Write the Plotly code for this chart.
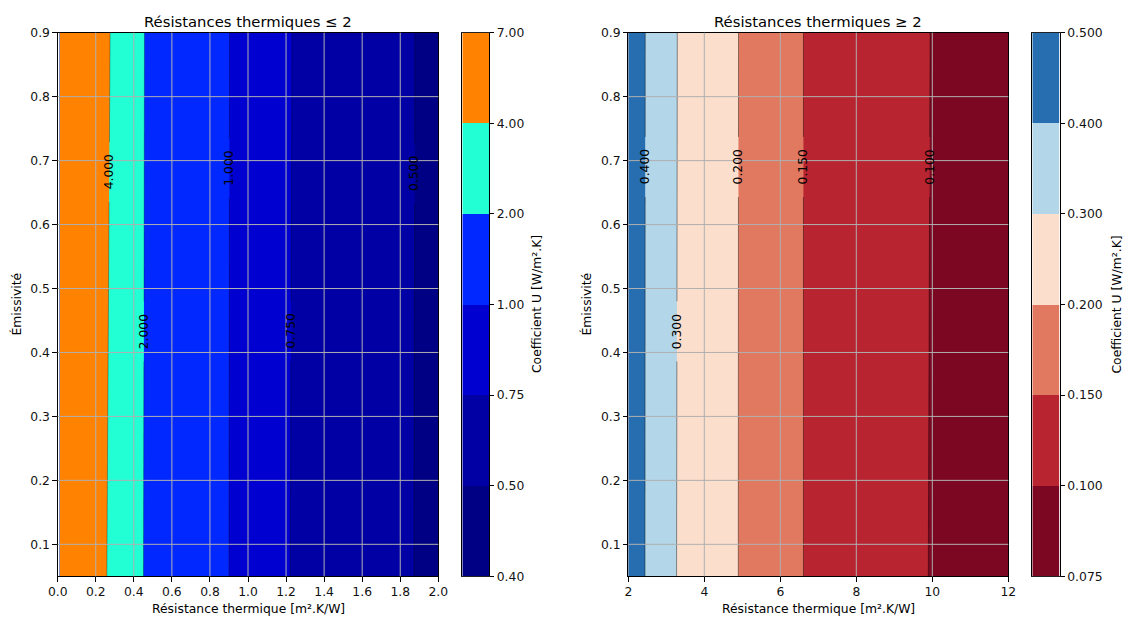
import numpy as np
import plotly.graph_objects as go

W, H = 1125, 619

# ---------------- data ----------------
emissivity = [0.05, 0.9]

R_low = [0.01, 0.1, 0.2, 0.3, 0.4, 0.5, 0.6, 0.8, 1.0, 1.2, 1.4, 1.6, 1.8, 2.0]
U_low_e005 = [6.0, 5.3, 4.5, 3.64, 2.2, 1.805, 1.5, 1.12, 0.88, 0.761, 0.66, 0.58, 0.517, 0.47]
U_low_e090 = [6.3, 5.5, 4.7, 3.77, 2.22, 1.827, 1.52, 1.125, 0.882, 0.766, 0.665, 0.585, 0.5175, 0.472]

R_high = [2, 2.5, 3, 3.5, 4, 5, 6, 7, 8, 9, 10, 11, 12]
U_high_e005 = [0.48, 0.389, 0.318, 0.2847, 0.245, 0.1947, 0.162, 0.1423, 0.124, 0.111, 0.0987, 0.09, 0.083]
U_high_e090 = [0.482, 0.39, 0.32, 0.2855, 0.246, 0.1949, 0.1625, 0.142, 0.1245, 0.1115, 0.0993, 0.0905, 0.0835]

levels_low = [0.4, 0.5, 0.75, 1.0, 2.0, 4.0, 7.0]
levels_high = [0.075, 0.1, 0.15, 0.2, 0.3, 0.4, 0.5]

colors_low = ["#000084", "#0000a4", "#0000d1", "#0028ff", "#23ffd4", "#ff8200"]
colors_high = ["#7c0722", "#b82531", "#e17860", "#fcdecd", "#b3d6e8", "#276eb0"]

xticks_low = [0.0, 0.2, 0.4, 0.6, 0.8, 1.0, 1.2, 1.4, 1.6, 1.8, 2.0]
xticks_high = [2, 4, 6, 8, 10, 12]
yticks = [0.1, 0.2, 0.3, 0.4, 0.5, 0.6, 0.7, 0.8, 0.9]

label_eps_low = {0.5: 0.68, 0.75: 0.433, 1.0: 0.688, 2.0: 0.433, 4.0: 0.682}
label_eps_high = {0.1: 0.69, 0.15: 0.69, 0.2: 0.69, 0.3: 0.433, 0.4: 0.69}

titles = ["Résistances thermiques ≤ 2", "Résistances thermiques ≥ 2"]
xlabel = "Résistance thermique [m².K/W]"
ylabel = "Émissivité"
cblabel = "Coefficient U [W/m².K]"

FONT = "DejaVu Sans"
FS = 12.35
FS_TITLE = 14.8

# ---------------- layout geometry (pixels) ----------------
ytop, ybot = 32.7, 576.3
panels = [
    dict(x0=57.7, x1=438.3, cb0=462.3, cb1=489.0, cbt=536.5, ylab=16.0),
    dict(x0=628.3, x1=1008.3, cb0=1032.3, cb1=1059.5, cbt=1116.0, ylab=586.0),
]
TRANSPARENT = "rgba(0,0,0,0)"


def stepped_scale(cols):
    n = len(cols)
    scale = []
    for k, c in enumerate(cols):
        lo = max(0.0, (k - 0.5) / (n - 1))
        hi = min(1.0, (k + 0.5) / (n - 1))
        scale.append([lo, c])
        scale.append([hi, c])
    return scale


fig = go.Figure()
shapes = []
annotations = []

datasets = [
    (R_low, [U_low_e005, U_low_e090], levels_low, colors_low, xticks_low, label_eps_low, "{:.1f}", "{:.2f}", [0, 2], 0.3),
    (R_high, [U_high_e005, U_high_e090], levels_high, colors_high, xticks_high, label_eps_high, "{:d}", "{:.3f}", [2, 12], 0.42),
]

for i, (R, Urows, levels, cols, xt, leps, xfmt, cbfmt, xr, lalpha) in enumerate(datasets):
    p = panels[i]
    xa = "x" if i == 0 else "x2"
    ya = "y" if i == 0 else "y2"
    xcb = "x3" if i == 0 else "x4"
    ycb = "y3" if i == 0 else "y4"
    U = np.array(Urows, dtype=float)
    nb = len(cols)
    line_col = "rgba(0,0,0,{})".format(lalpha)

    # stacked single-level filled contours on the real U values
    for k in range(1, nb):
        lev = levels[k]
        below = cols[k - 1] if k == 1 else TRANSPARENT
        cs = [[0, below], [0.5, below], [0.5, cols[k]], [1, cols[k]]]
        fig.add_trace(go.Contour(
            x=R, y=emissivity, z=U, autocontour=False,
            contours=dict(start=lev, end=lev, size=1, coloring="fill", showlines=False),
            line=dict(width=0), colorscale=cs, showscale=False, hoverinfo="skip",
            xaxis=xa, yaxis=ya))

    # contour lines with gaps at labels
    for lev in levels[1:-1]:
        rr = [float(np.interp(lev, row[::-1], np.array(R)[::-1])) for row in U]
        e0, e1 = emissivity
        ly = leps[lev]
        gap = 0.047

        def xat(e):
            return rr[0] + (rr[1] - rr[0]) * (e - e0) / (e1 - e0)

        xs = [xat(e0), xat(ly - gap), None, xat(ly + gap), xat(e1)]
        ys = [e0, ly - gap, None, ly + gap, e1]
        fig.add_trace(go.Scatter(x=xs, y=ys, mode="lines", line=dict(color=line_col, width=1),
                                 hoverinfo="skip", showlegend=False, xaxis=xa, yaxis=ya))
        annotations.append(dict(x=xat(ly), y=ly, xref=xa, yref=ya, text="{:.3f}".format(lev),
                                showarrow=False, textangle=-90, font=dict(family=FONT, size=FS, color="#000"),
                                xanchor="center", yanchor="middle"))

    # colorbar as heatmap of bands
    fig.add_trace(go.Heatmap(
        x=[0, 1], y=list(range(len(levels))), z=[[k] for k in range(nb)],
        colorscale=stepped_scale(cols), zmin=0, zmax=nb - 1, showscale=False, hoverinfo="skip",
        xaxis=xcb, yaxis=ycb))

    ydom = [1 - ybot / H, 1 - ytop / H]
    axkw = dict(showline=True, linecolor="black", linewidth=1, mirror=True,
                ticks="outside", ticklen=4.3, tickwidth=1, tickcolor="black",
                showgrid=False, zeroline=False, automargin=False,
                tickfont=dict(family=FONT, size=FS, color="#111"))
    if xfmt == "{:d}":
        xtext = [str(int(v)) for v in xt]
    else:
        xtext = [xfmt.format(v) for v in xt]
    xname = "xaxis" if i == 0 else "xaxis2"
    yname = "yaxis" if i == 0 else "yaxis2"
    fig.update_layout(**{
        xname: dict(domain=[p["x0"] / W, p["x1"] / W], range=xr, tickvals=xt, ticktext=xtext,
                    anchor=ya, **axkw),
        yname: dict(domain=ydom, range=[0.05, 0.9], tickvals=yticks,
                    ticktext=["{:.1f}".format(v) for v in yticks], anchor=xa, **axkw),
        ("xaxis3" if i == 0 else "xaxis4"): dict(domain=[p["cb0"] / W, p["cb1"] / W], range=[0, 1],
                                                 showticklabels=False, ticks="", showline=True,
                                                 linecolor="#222", linewidth=1, mirror=True,
                                                 showgrid=False, zeroline=False, automargin=False,
                                                 anchor=ycb),
        ("yaxis3" if i == 0 else "yaxis4"): dict(domain=ydom, range=[0, len(levels) - 1], side="right",
                                                 tickvals=list(range(len(levels))),
                                                 ticktext=[cbfmt.format(v) for v in levels],
                                                 anchor=xcb, **axkw),
    })

    # grid lines on top
    for v in xt:
        if v <= xr[0] or v >= xr[1]:
            continue
        shapes.append(dict(type="line", xref=xa, yref=ya + " domain", x0=v, x1=v, y0=0, y1=1,
                           line=dict(color="#b0b0b0", width=1), layer="above"))
    for v in yticks:
        if v >= 0.9:
            continue
        shapes.append(dict(type="line", xref=xa + " domain", yref=ya, x0=0, x1=1, y0=v, y1=v,
                           line=dict(color="#b0b0b0", width=1), layer="above"))

    xc = (p["x0"] + p["x1"]) / 2 / W
    annotations.append(dict(x=xc, y=1 - 21 / H, xref="paper", yref="paper", text=titles[i],
                            showarrow=False, font=dict(family=FONT, size=FS_TITLE, color="#000"),
                            xanchor="center", yanchor="middle"))
    annotations.append(dict(x=xc, y=1 - 608.5 / H, xref="paper", yref="paper", text=xlabel,
                            showarrow=False, font=dict(family=FONT, size=FS, color="#000"),
                            xanchor="center", yanchor="middle"))
    annotations.append(dict(x=p["ylab"] / W, y=1 - (ytop + ybot) / 2 / H, xref="paper", yref="paper",
                            text=ylabel, showarrow=False, textangle=-90,
                            font=dict(family=FONT, size=FS, color="#000"),
                            xanchor="center", yanchor="middle"))
    annotations.append(dict(x=p["cbt"] / W, y=1 - (ytop + ybot) / 2 / H, xref="paper", yref="paper",
                            text=cblabel, showarrow=False, textangle=-90,
                            font=dict(family=FONT, size=FS, color="#000"),
                            xanchor="center", yanchor="middle"))

fig.update_layout(
    width=W, height=H, margin=dict(l=0, r=0, t=0, b=0),
    paper_bgcolor="white", plot_bgcolor="white",
    showlegend=False, shapes=shapes, annotations=annotations,
    font=dict(family=FONT, size=FS, color="#000"),
)

fig.write_html("out.html",
               config={"displayModeBar": False, "staticPlot": True},
               post_script="document.body.style.margin='0px';document.body.style.padding='0px';"
                           "document.body.style.overflow='hidden';")
